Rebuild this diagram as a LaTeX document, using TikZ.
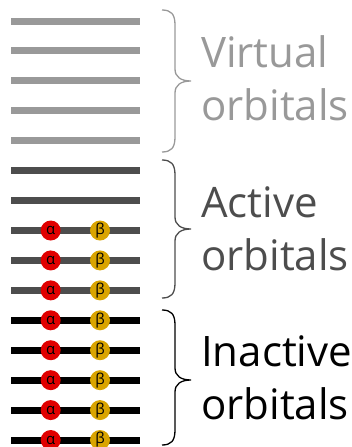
\documentclass[tikz,border=0pt]{standalone}
\usepackage{fontspec}
\setmainfont{Open Sans}
\definecolor{virt}{HTML}{999999}
\definecolor{actv}{HTML}{4D4D4D}
\definecolor{inac}{HTML}{000000}
\definecolor{alph}{HTML}{E00000}
\definecolor{bet}{HTML}{D9A400}
\tikzset{
  orb/.style={line width=7pt},
  elec/.style={circle, minimum size=20pt, inner sep=0pt, font=\fontsize{15}{15}\selectfont, text=black},
  ealpha/.style={elec, fill=alph},
  ebeta/.style={elec, fill=bet},
  brc/.style={line width=1.3pt},
  lbl/.style={anchor=base west, inner sep=0pt, align=left, font=\fontsize{42}{53}\selectfont},
}
\newcommand{\orbbrace}[4]{% top, tip, bottom, color
  \draw[brc, #4] (162,#1) .. controls (171,#1) and (175,#1+4) .. (175,#1+15)
    -- (175,#2-12) .. controls (175,#2-4) and (181,#2) .. (191,#2)
    .. controls (181,#2) and (175,#2+4) .. (175,#2+12)
    -- (175,#3-15) .. controls (175,#3-4) and (171,#3) .. (162,#3);
}
\begin{document}
\begin{tikzpicture}[x=1pt, y=-1pt]
\useasboundingbox (0,0) rectangle (351,447);
% orbital lines
\foreach \i in {0,...,14} {
  \pgfmathsetmacro{\yy}{21+29.93*\i}
  \ifnum\i<5 \def\cc{virt}\else\ifnum\i<10 \def\cc{actv}\else\def\cc{inac}\fi\fi
  \draw[orb, \cc] (11,\yy) -- (140,\yy);
}
% electrons
\foreach \i in {7,...,14} {
  \pgfmathsetmacro{\yy}{21+29.93*\i}
  \node[ealpha] (a\i) at (50.7,\yy) {α};
  \node[ebeta] (b\i) at (100,\yy) {β};
}
% braces
\orbbrace{10}{81}{152}{virt}
\orbbrace{160}{229}{298}{actv}
\orbbrace{310}{380}{445}{inac}
% labels (anchor on baseline of second line)
\node[lbl, text=virt] (lv) at (201,120) {Virtual\\orbitals};
\node[lbl, text=actv] (la) at (201,270) {Active\\orbitals};
\node[lbl, text=inac] (li) at (201,419) {Inactive\\orbitals};
\end{tikzpicture}
\end{document}
